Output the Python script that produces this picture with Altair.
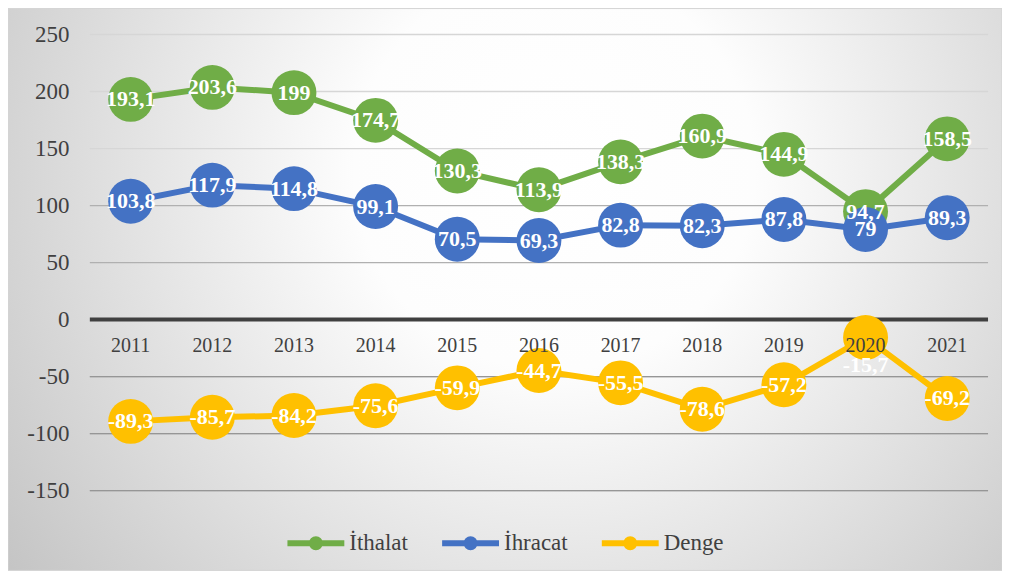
import altair as alt
import pandas as pd

years = ["2011", "2012", "2013", "2014", "2015", "2016", "2017", "2018", "2019", "2020", "2021"]
ithalat = [193.1, 203.6, 199, 174.7, 130.3, 113.9, 138.3, 160.9, 144.9, 94.7, 158.5]
ihracat = [103.8, 117.9, 114.8, 99.1, 70.5, 69.3, 82.8, 82.3, 87.8, 79, 89.3]
denge = [-89.3, -85.7, -84.2, -75.6, -59.9, -44.7, -55.5, -78.6, -57.2, -15.7, -69.2]
series_names = ["İthalat", "İhracat", "Denge"]
series_colors = ["#70ad47", "#4472c4", "#ffc000"]
y_ticks = [-150, -100, -50, 0, 50, 100, 150, 200, 250]

rows = []
for name, vals in zip(series_names, [ithalat, ihracat, denge]):
    for yr, v in zip(years, vals):
        rows.append({"year": yr, "series": name, "value": v,
                     "label": f"{v:g}".replace(".", ",")})
df = pd.DataFrame(rows)
years_df = pd.DataFrame({"year": years})
grid_df = pd.DataFrame({"value": [t for t in y_ticks if t != 0]})

W, H = 900, 457
SERIF = "Liberation Serif"
yscale = alt.Scale(domain=[-150, 250], nice=False)
yaxis = alt.Axis(values=y_ticks, title=None, domain=False, ticks=False, grid=False,
                 labelFont=SERIF, labelFontSize=23, labelColor="#404040",
                 labelPadding=21, zindex=1, labelExpr="'' + datum.value")

xs = alt.X("year:O", scale=alt.Scale(type="point", padding=0.5, domain=years), axis=None)
ys = alt.Y("value:Q", scale=yscale, axis=yaxis)
color = alt.Color("series:N",
                  scale=alt.Scale(domain=series_names, range=series_colors),
                  legend=alt.Legend(title=None, orient="none", direction="horizontal",
                                    legendX=195, legendY=478,
                                    symbolType="M-1,0H1M-0.14,0A0.14,0.14,0,1,0,0.14,0A0.14,0.14,0,1,0,-0.14,0",
                                    symbolSize=3249, symbolStrokeWidth=6,
                                    labelFont=SERIF, labelFontSize=23, labelColor="#404040",
                                    labelOffset=2, columnPadding=22, padding=0))

bg = alt.Chart(years_df.head(1)).mark_rect(
    fill={"gradient": "radial",
          "x1": 0.55, "y1": 0.38, "r1": 0,
          "x2": 0.55, "y2": 0.38, "r2": 0.72,
          "stops": [{"offset": 0, "color": "#ffffff"},
                    {"offset": 0.28, "color": "#fdfdfd"},
                    {"offset": 1, "color": "#c0c0c0"}]},
    stroke="#d4d4d4", strokeWidth=1
).encode(x=alt.value(-82), x2=alt.value(W + 14), y=alt.value(-26), y2=alt.value(H + 80))

grid = alt.Chart(grid_df).mark_rule(strokeWidth=1.3).encode(
    y=ys,
    x=alt.value(0), x2=alt.value(W),
    color=alt.condition("datum.value >= 150", alt.value("#d6d6d6"),
                        alt.value("#b0b0b0")),
)
grid_low = alt.Chart(grid_df).transform_filter("datum.value < 0").mark_rule(
    strokeWidth=1.3, color="#969696").encode(
    y=ys, x=alt.value(0), x2=alt.value(W))

zero = alt.Chart(years_df.head(1)).mark_rule(color="#404040", strokeWidth=4).encode(
    y=alt.datum(0, scale=yscale),
    x=alt.value(0), x2=alt.value(W))

lines = alt.Chart(df).mark_line(strokeWidth=6).encode(x=xs, y=ys, color=color, detail="series:N")
points = alt.Chart(df).mark_circle(size=2025, opacity=1).encode(
    x=xs, y=ys, color=alt.Color("series:N", scale=alt.Scale(domain=series_names, range=series_colors), legend=None),
    detail="series:N")

year_labels = alt.Chart(years_df).mark_text(
    font=SERIF, fontSize=20, color="#404040", dy=27, baseline="middle").encode(
    x=xs, y=alt.datum(0), text="year:N")

labels = alt.Chart(df).transform_filter(
    "!(datum.year == '2020' && datum.series == 'Denge')").mark_text(
    font=SERIF, fontSize=22, fontWeight="bold", color="white", baseline="middle").encode(
    x=xs, y=ys, text="label:N")
label_special = alt.Chart(df).transform_filter(
    "datum.year == '2020' && datum.series == 'Denge'").mark_text(
    font=SERIF, fontSize=22, fontWeight="bold", color="white", baseline="middle", dy=28).encode(
    x=xs, y=ys, text="label:N")

chart = alt.layer(bg, grid, grid_low, zero, lines, points, year_labels, labels, label_special).properties(
    width=W, height=H,
    autosize=alt.AutoSizeParams(type="none"),
    padding={"left": 82, "top": 26, "right": 14, "bottom": 80},
).configure_view(stroke=None).configure_axis(
    labelFont=SERIF, labelFontSize=23, labelColor="#404040"
).configure(background="white")

chart.save("out.html", embed_options={"renderer": "svg", "actions": False})
